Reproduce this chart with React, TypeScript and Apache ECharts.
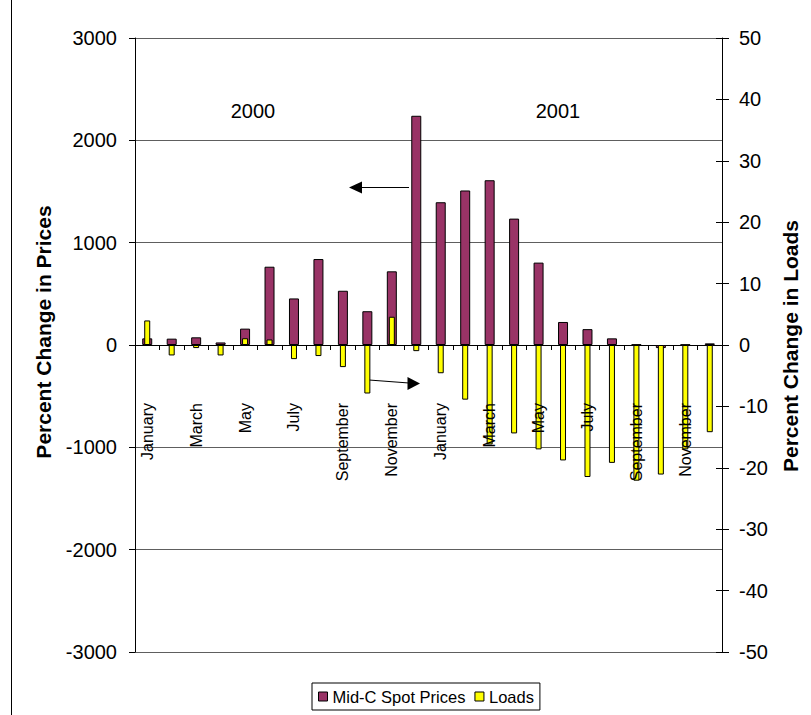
import React, { useEffect, useRef } from "react";
import * as echarts from "echarts";

// Monthly percent changes, January 2000 through December 2001
const months = [
  "January", "February", "March", "April", "May", "June",
  "July", "August", "September", "October", "November", "December",
  "January", "February", "March", "April", "May", "June",
  "July", "August", "September", "October", "November", "December",
];

// Mid-C spot price change (%), left axis
const spotPrices = [
  65, 62, 75, 25, 160, 765, 455, 840, 530, 330, 720, 2240,
  1395, 1510, 1610, 1235, 805, 225, 155, 65, 5, -30, 4, 16,
];

// Load change (%), right axis
const loads = [
  4.0, -1.7, -0.5, -1.7, 1.1, 0.9, -2.3, -1.8, -3.6, -7.9, 4.6, -1.0,
  -4.6, -8.9, -16.2, -14.4, -17.0, -18.8, -21.5, -19.2, -22.1, -21.1, -17.0, -14.2,
];

const yearLabels = ["2000", "2001"];
const FONT = "'Liberation Sans', Arial, sans-serif";
const plain = (v: number) => String(v);

export default function App() {
  const ref = useRef<HTMLDivElement>(null);

  useEffect(() => {
    if (!ref.current) return;
    const chart = echarts.init(ref.current, null, { renderer: "svg" });

    const gridLeft = 135;
    const gridTop = 38;
    const gridWidth = 587;
    const gridHeight = 614;

    chart.setOption({
      animation: false,
      backgroundColor: "#ffffff",
      textStyle: { fontFamily: FONT, color: "#000" },
      grid: [
        { left: gridLeft, top: gridTop, width: gridWidth, height: gridHeight, outerBoundsMode: "none", containLabel: false },
        // upper half of the plot: its bottom edge is the zero line, used to hang the month labels
        { left: gridLeft, top: gridTop, width: gridWidth, height: gridHeight / 2, outerBoundsMode: "none", containLabel: false },
      ],
      legend: {
        left: 312,
        top: 683,
        orient: "horizontal",
        icon: "rect",
        itemWidth: 9,
        itemHeight: 9,
        itemGap: 9,
        padding: [5, 6],
        borderColor: "#000",
        borderWidth: 1,
        textStyle: { fontSize: 16.5, color: "#000", fontFamily: FONT },
        data: [
          { name: "Mid-C Spot Prices", itemStyle: { color: "#993366", borderColor: "#000", borderWidth: 1 } },
          { name: "Loads", itemStyle: { color: "#ffff00", borderColor: "#000", borderWidth: 1 } },
        ],
      },
      xAxis: [
        {
          type: "category",
          gridIndex: 0,
          data: months,
          boundaryGap: true,
          axisLine: { onZero: true, lineStyle: { color: "#000", width: 1 } },
          axisTick: { show: true, interval: 0, length: 5, lineStyle: { color: "#000" } },
          axisLabel: { show: false },
          splitLine: { show: false },
        },
        {
          type: "category",
          gridIndex: 0,
          data: months,
          show: false,
        },
        {
          // month labels hanging below the zero line
          type: "category",
          gridIndex: 1,
          data: months,
          z: 10,
          position: "bottom",
          boundaryGap: true,
          axisLine: { show: false },
          axisTick: { show: false },
          axisLabel: {
            interval: 1,
            rotate: 90,
            margin: 58,
            fontSize: 16,
            color: "#000",
            fontFamily: FONT,
          },
          splitLine: { show: false },
        },
      ],
      yAxis: [
        {
          type: "value",
          gridIndex: 0,
          position: "left",
          min: -3000,
          max: 3000,
          interval: 1000,
          axisLine: { show: true, lineStyle: { color: "#000" } },
          axisTick: { show: true, length: 6, lineStyle: { color: "#000" } },
          axisLabel: { fontSize: 20, margin: 18, color: "#000", fontFamily: FONT, formatter: plain },
          splitLine: { show: true, lineStyle: { color: "#5e5e5e", width: 1 } },
        },
        {
          type: "value",
          gridIndex: 0,
          position: "right",
          min: -50,
          max: 50,
          interval: 10,
          axisLine: { show: true, lineStyle: { color: "#000" } },
          axisTick: { show: true, length: 7, lineStyle: { color: "#000" } },
          axisLabel: { fontSize: 20, margin: 17, color: "#000", fontFamily: FONT, formatter: plain },
          splitLine: { show: false },
        },
        {
          // inner half of the crossing ticks on the right axis
          type: "value",
          gridIndex: 0,
          position: "right",
          min: -50,
          max: 50,
          interval: 10,
          axisLine: { show: false },
          axisTick: { show: true, inside: true, length: 6, lineStyle: { color: "#000" } },
          axisLabel: { show: false },
          splitLine: { show: false },
        },
        {
          type: "value",
          gridIndex: 1,
          min: 0,
          max: 1,
          show: false,
        },
      ],
      series: [
        {
          name: "Mid-C Spot Prices",
          type: "bar",
          xAxisIndex: 0,
          yAxisIndex: 0,
          data: spotPrices,
          barWidth: 10,
          itemStyle: { color: "#993366", borderColor: "#000", borderWidth: 1 },
        },
        {
          name: "Loads",
          type: "bar",
          xAxisIndex: 1,
          yAxisIndex: 1,
          data: loads,
          barWidth: 6,
          itemStyle: { color: "#ffff00", borderColor: "#000", borderWidth: 1 },
        },
      ],
      graphic: [
        // outer frame edge
        { type: "line", shape: { x1: 11.5, y1: 0, x2: 11.5, y2: 715 }, style: { stroke: "#000", lineWidth: 1 } },
        // axis titles
        {
          type: "text",
          x: 43,
          y: 332,
          rotation: Math.PI / 2,
          style: {
            text: "Percent Change in Prices",
            font: `bold 21px ${FONT}`,
            fill: "#000",
            align: "center",
            verticalAlign: "middle",
          },
        },
        {
          type: "text",
          x: 790,
          y: 346,
          rotation: Math.PI / 2,
          style: {
            text: "Percent Change in Loads",
            font: `bold 21px ${FONT}`,
            fill: "#000",
            align: "center",
            verticalAlign: "middle",
          },
        },
        // year captions
        {
          type: "text",
          x: 253,
          y: 111,
          style: { text: yearLabels[0], font: `20px ${FONT}`, fill: "#000", align: "center", verticalAlign: "middle" },
        },
        {
          type: "text",
          x: 558,
          y: 111,
          style: { text: yearLabels[1], font: `20px ${FONT}`, fill: "#000", align: "center", verticalAlign: "middle" },
        },
        // arrow pointing to the price axis
        { type: "line", shape: { x1: 409, y1: 187.5, x2: 360, y2: 187.5 }, style: { stroke: "#000", lineWidth: 1.2 } },
        { type: "polygon", shape: { points: [[349, 187.5], [362, 181.5], [362, 193.5]] }, style: { fill: "#000" } },
        // arrow pointing to the load axis
        { type: "line", shape: { x1: 369, y1: 380, x2: 409, y2: 383 }, style: { stroke: "#000", lineWidth: 1.2 } },
        { type: "polygon", shape: { points: [[420, 383.5], [407.5, 377], [407.5, 390]] }, style: { fill: "#000" } },
      ],
    });

    return () => chart.dispose();
  }, []);

  return (
    <div
      ref={ref}
      style={{ position: "absolute", left: 0, top: 0, width: 811, height: 715, background: "#fff" }}
    />
  );
}
